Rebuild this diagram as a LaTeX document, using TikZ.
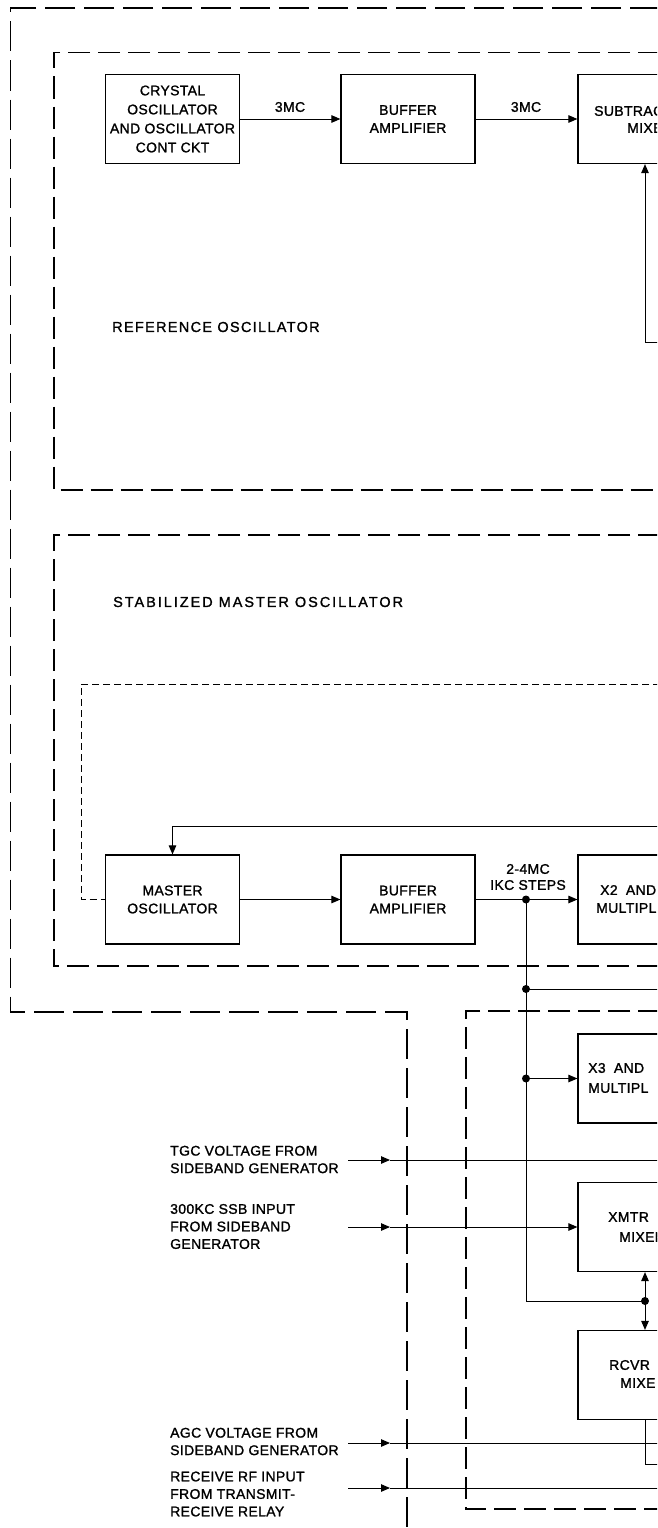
\documentclass[tikz,border=0pt]{standalone}
\usepackage{fontspec}
\setmainfont{Liberation Sans}
\newfontfamily\lett[LetterSpace=2.5,FakeBold=1.3]{Liberation Sans}
\newfontfamily\lettb[LetterSpace=9,FakeBold=1.3]{Liberation Sans}
\newfontfamily\lettc[LetterSpace=13.5,FakeBold=1.3]{Liberation Sans}
\usetikzlibrary{arrows.meta}
\begin{document}
\begin{tikzpicture}[x=1pt,y=-1pt,
  every node/.style={font=\lett\fontsize{14}{18}\selectfont},
  blk/.style={draw,line width=1.2pt,minimum width=134pt,minimum height=89pt,inner sep=0pt,align=center},
  conn/.style={line width=1pt},
  arr/.style={conn,-{Triangle[length=9pt,width=7.5pt]}},
  outerdash/.style={line width=1.7pt,dash pattern=on 30pt off 9pt},
  secdash/.style={line width=1.3pt,dash pattern=on 22pt off 8pt},
  finedash/.style={line width=1pt,dash pattern=on 7pt off 4pt},
  dot/.style={circle,fill,inner sep=0pt,minimum size=8pt},
  lbl/.style={anchor=west,inner sep=0pt,align=left,font=\lett\fontsize{14}{17.5}\selectfont},
  cut/.style={anchor=west,inner sep=0pt},
  title/.style={anchor=west,inner sep=0pt,font=\lettb\fontsize{14.5}{18}\selectfont}
]
\useasboundingbox (0,0) rectangle (657,1528);
\clip (0,0) rectangle (657,1528);

% ---------- dashed enclosures ----------
\draw[outerdash] (660,8) -- (10.5,8) -- (10.5,1012) -- (407,1012) -- (407,1535);
\draw[secdash] (660,52.5) -- (54,52.5) -- (54,490) -- (660,490);
\draw[secdash] (660,535) -- (54,535) -- (54,966) -- (660,966);
\draw[secdash] (660,1011) -- (466,1011) -- (466,1509) -- (660,1509);

% ---------- reference oscillator ----------
\node[blk,font=\lett\fontsize{14}{19}\selectfont] (xtal) at (172.5,119) {CRYSTAL\\OSCILLATOR\\AND OSCILLATOR\\CONT CKT};
\node[blk] (buf1) at (408,119) {BUFFER\\AMPLIFIER};
\node[blk] (sub) at (645,119) {};
\node[cut] (subt) at (594,111) {SUBTRAC};
\node[cut] (subm) at (627,128) {MIXE};
\draw[arr] (xtal.east) -- (buf1.west);
\draw[arr] (buf1.east) -- (sub.west);
\node (mc1) at (290,107) {3MC};
\node (mc2) at (526,107) {3MC};
\coordinate (fbR) at (660,342);
\draw[arr] (fbR) -| (sub.south);
\node[title] (refl) at (112,327) {REFERENCE OSCILLATOR};

% ---------- stabilized master oscillator ----------
\node[title,font=\lettc\fontsize{14.5}{18}\selectfont] (smol) at (113,602) {STABILIZED MASTER OSCILLATOR};
\node[blk] (mo) at (172.5,899.5) {MASTER\\OSCILLATOR};
\node[blk] (buf2) at (408,899.5) {BUFFER\\AMPLIFIER};
\node[blk] (x2) at (645,899.5) {};
\node[cut] (x2t) at (600,890) {X2\hspace{4pt} AND};
\node[cut] (x2m) at (596,908) {MULTIPL};
\coordinate (fdR) at (660,684);
\coordinate (fdC) at (81,899.5);
\draw[finedash] (fdR) -| (fdC) -- (mo.west);
\coordinate (fb2) at (660,826);
\draw[arr] (fb2) -| (mo.north);
\draw[arr] (mo.east) -- (buf2.west);
\draw[arr] (buf2.east) -- (x2.west);
\node[dot] (d1) at (526,899.5) {};
\node[align=center,font=\lett\fontsize{14}{16}\selectfont] (steps) at (528,877) {2-4MC\\IKC STEPS};

% ---------- lower section ----------
\node[blk] (x3) at (645,1078.5) {};
\node[cut] (x3t) at (588,1068) {X3\hspace{4pt} AND};
\node[cut] (x3m) at (588,1088) {MULTIPL};
\node[blk] (xmtr) at (645,1227) {};
\node[cut] (xmt) at (608,1217) {XMTR};
\node[cut] (xmm) at (619,1237) {MIXER};
\node[blk] (rcvr) at (645,1375) {};
\node[cut] (rct) at (609,1365) {RCVR};
\node[cut] (rcm) at (620,1383) {MIXE};

\node[dot] (d2) at (526,989) {};
\node[dot] (d3) at (526,1078.5) {};
\node[dot] (d4) at (645,1301) {};
\coordinate (tk) at (526,1301);
\draw[conn] (d1.center) -- (tk) -- (d4.center);
\coordinate (r989) at (660,989);
\draw[conn] (d2.center) -- (r989);
\draw[arr] (d3.center) -- (x3.west);
\draw[arr] (d4.center) -- (xmtr.south);
\draw[arr] (d4.center) -- (rcvr.north);
\coordinate (rcb) at (645,1464);
\coordinate (rcbR) at (660,1464);
\draw[conn] (rcvr.south) -- (rcb) -- (rcbR);

% ---------- inputs ----------
\node[lbl] (tgct) at (170,1159.5) {TGC VOLTAGE FROM\\SIDEBAND GENERATOR};
\coordinate (tgcA) at (348,1160);
\coordinate (tgcB) at (390,1160);
\coordinate (tgcC) at (660,1160);
\draw[arr] (tgcA) -- (tgcB);
\draw[conn] (tgcB) -- (tgcC);

\node[lbl] (ssbt) at (170,1226.5) {300KC SSB INPUT\\FROM SIDEBAND\\GENERATOR};
\coordinate (ssbA) at (348,1227);
\coordinate (ssbB) at (390,1227);
\draw[arr] (ssbA) -- (ssbB);
\draw[arr] (ssbB) -- (xmtr.west);

\node[lbl] (agct) at (170,1441.5) {AGC VOLTAGE FROM\\SIDEBAND GENERATOR};
\coordinate (agcA) at (348,1443);
\coordinate (agcB) at (390,1443);
\coordinate (agcC) at (660,1443);
\draw[arr] (agcA) -- (agcB);
\draw[conn] (agcB) -- (agcC);

\node[lbl] (rft) at (170,1494) {RECEIVE RF INPUT\\FROM TRANSMIT-\\RECEIVE RELAY};
\coordinate (rfA) at (348,1488);
\coordinate (rfB) at (390,1488);
\coordinate (rfC) at (660,1488);
\draw[arr] (rfA) -- (rfB);
\draw[conn] (rfB) -- (rfC);
\end{tikzpicture}
\end{document}
